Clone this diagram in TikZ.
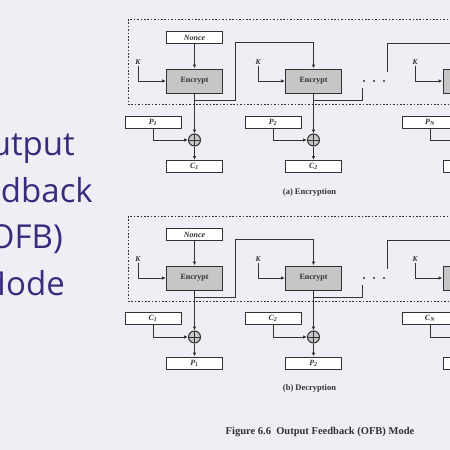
\documentclass[tikz,border=0pt]{standalone}
\usepackage{fontspec}
\setmainfont{Liberation Serif}
\newfontfamily\slidefont{Open Sans}
\usetikzlibrary{positioning, calc, arrows.meta}
\definecolor{paper}{RGB}{239,238,244}
\definecolor{ink}{RGB}{50,50,50}
\definecolor{boxgray}{RGB}{198,198,198}
\definecolor{slidepurple}{RGB}{58,44,124}
\tikzset{
  encbox/.style={draw=ink, line width=1pt, fill=boxgray, minimum width=56pt, minimum height=24pt,
    inner sep=0pt, text=ink, font=\fontsize{8}{9}\selectfont\bfseries},
  databox/.style={draw=ink, line width=1pt, fill=white, minimum width=56pt, minimum height=12pt,
    inner sep=0pt, text=ink, font=\fontsize{8}{9}\selectfont\bfseries\itshape},
  xorop/.style={circle, draw=ink, line width=1pt, fill=boxgray, minimum size=12pt, inner sep=0pt,
    path picture={\draw[ink, line width=0.8pt] (path picture bounding box.north) -- (path picture bounding box.south)
      (path picture bounding box.west) -- (path picture bounding box.east);}},
  keylabel/.style={font=\fontsize{7.5}{8}\selectfont\bfseries\itshape, text=ink, inner sep=1pt},
  flow/.style={draw=ink, line width=1pt, -{Latex[length=4pt,width=3.5pt]}},
  link/.style={draw=ink, line width=1pt},
  dotbox/.style={draw=ink, line width=1pt, dash pattern=on 1.6pt off 1.8pt},
  dotmark/.style={circle, fill=ink, inner sep=0pt, minimum size=2.4pt},
  subtitle/.style={font=\fontsize{8.5}{9}\selectfont\bfseries, text=ink},
  slideword/.style={font=\fontsize{33}{40}\slidefont, text=slidepurple, anchor=base east, inner sep=0pt}
}
\begin{document}
\begin{tikzpicture}[x=1pt, y=-1pt]
  \useasboundingbox (0,0) rectangle (450,450);
  \clip (0,0) rectangle (450,450);
  \fill[paper] (0,0) rectangle (450,450);
  % slide title
  \node[slideword] (wordA) at (75,155) {Output};
  \node[slideword] (wordB) at (93,202) {Feedback};
  \node[slideword] (wordC) at (63,248) {(OFB)};
  \node[slideword] (wordD) at (65,295) {Mode};
  % (a) encryption
  \draw[dotbox] (128,19) rectangle (470,104);
  \node[databox] (nonceA) at (194.5,37.5) {Nonce};
  \node[encbox] (encA1) at (194.5,81) {Encrypt};
  \node[encbox] (encA2) at (313.5,81) {Encrypt};
  \node[encbox] (encAN) at (471,81) {Encrypt};
  \node[keylabel] (kA1) at (138,62) {K};
  \node[keylabel] (kA2) at (258,62) {K};
  \node[keylabel] (kAN) at (415,62) {K};
  \node[databox] (pA1) at (153,122) {P\textsubscript{1}};
  \node[databox] (pA2) at (273,122) {P\textsubscript{2}};
  \node[databox] (pAN) at (430,122) {P\textsubscript{\textit{N}}};
  \node[xorop] (xorA1) at (194.5,140) {};
  \node[xorop] (xorA2) at (313.5,140) {};
  \node[xorop] (xorAN) at (471,140) {};
  \node[databox] (cA1) at (194.5,166.5) {C\textsubscript{1}};
  \node[databox] (cA2) at (313.5,166.5) {C\textsubscript{2}};
  \node[databox] (cAN) at (471,166.5) {C\textsubscript{\textit{N}}};
  \node[dotmark] (dotA1) at (364,81) {};
  \node[dotmark] (dotA2) at (374,81) {};
  \node[dotmark] (dotA3) at (384,81) {};
  \coordinate (tapA1) at (194.5,100);
  \coordinate (riseA1) at (235,42);
  \coordinate (tapA2) at (313.5,100);
  \coordinate (stubA2) at (362,88);
  \coordinate (stubAN) at (387,72);
  \coordinate (riseAN) at (387,43);
  \draw[flow] (nonceA) -- (encA1);
  \draw[flow] (kA1) |- (encA1.west);
  \draw[flow] (kA2) |- (encA2.west);
  \draw[flow] (kAN) |- (encAN.west);
  \draw[flow] (tapA1) -| (riseA1) -| (encA2.north);
  \draw[link] (tapA2) -| (stubA2);
  \draw[flow] (stubAN) -- (riseAN) -| (encAN.north);
  \draw[flow] (encA1) -- (xorA1);
  \draw[flow] (encA2) -- (xorA2);
  \draw[flow] (encAN) -- (xorAN);
  \draw[flow] (pA1) |- (xorA1);
  \draw[flow] (pA2) |- (xorA2);
  \draw[flow] (pAN) |- (xorAN);
  \draw[flow] (xorA1) -- (cA1);
  \draw[flow] (xorA2) -- (cA2);
  \draw[flow] (xorAN) -- (cAN);
  \node[subtitle] (titleA) at (309.5,192) {(a) Encryption};
  % (b) decryption
  \draw[dotbox] (128,216) rectangle (470,301);
  \node[databox] (nonceB) at (194.5,234.5) {Nonce};
  \node[encbox] (encB1) at (194.5,278) {Encrypt};
  \node[encbox] (encB2) at (313.5,278) {Encrypt};
  \node[encbox] (encBN) at (471,278) {Encrypt};
  \node[keylabel] (kB1) at (138,259) {K};
  \node[keylabel] (kB2) at (258,259) {K};
  \node[keylabel] (kBN) at (415,259) {K};
  \node[databox] (cB1) at (153,318) {C\textsubscript{1}};
  \node[databox] (cB2) at (273,318) {C\textsubscript{2}};
  \node[databox] (cBN) at (430,318) {C\textsubscript{\textit{N}}};
  \node[xorop] (xorB1) at (194.5,337) {};
  \node[xorop] (xorB2) at (313.5,337) {};
  \node[xorop] (xorBN) at (471,337) {};
  \node[databox] (pB1) at (194.5,363) {P\textsubscript{1}};
  \node[databox] (pB2) at (313.5,363) {P\textsubscript{2}};
  \node[databox] (pBN) at (471,363) {P\textsubscript{\textit{N}}};
  \node[dotmark] (dotB1) at (364,278) {};
  \node[dotmark] (dotB2) at (374,278) {};
  \node[dotmark] (dotB3) at (384,278) {};
  \coordinate (tapB1) at (194.5,297);
  \coordinate (riseB1) at (235,239);
  \coordinate (tapB2) at (313.5,297);
  \coordinate (stubB2) at (362,285);
  \coordinate (stubBN) at (387,269);
  \coordinate (riseBN) at (387,240);
  \draw[flow] (nonceB) -- (encB1);
  \draw[flow] (kB1) |- (encB1.west);
  \draw[flow] (kB2) |- (encB2.west);
  \draw[flow] (kBN) |- (encBN.west);
  \draw[flow] (tapB1) -| (riseB1) -| (encB2.north);
  \draw[link] (tapB2) -| (stubB2);
  \draw[flow] (stubBN) -- (riseBN) -| (encBN.north);
  \draw[flow] (encB1) -- (xorB1);
  \draw[flow] (encB2) -- (xorB2);
  \draw[flow] (encBN) -- (xorBN);
  \draw[flow] (cB1) |- (xorB1);
  \draw[flow] (cB2) |- (xorB2);
  \draw[flow] (cBN) |- (xorBN);
  \draw[flow] (xorB1) -- (pB1);
  \draw[flow] (xorB2) -- (pB2);
  \draw[flow] (xorBN) -- (pBN);
  \node[subtitle] (titleB) at (309.5,388) {(b) Decryption};
  \node[font=\fontsize{10.5}{12}\selectfont\bfseries, text=ink] (caption) at (320,432)
    {Figure 6.6\ \ Output Feedback (OFB) Mode};
\end{tikzpicture}
\end{document}
